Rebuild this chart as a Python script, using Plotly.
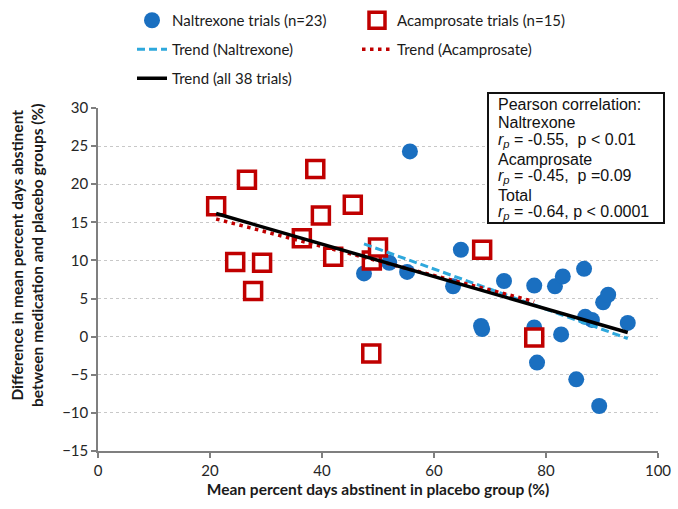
import numpy as np
import plotly.graph_objects as go

# Naltrexone trials: placebo abstinence (%) vs. drug-placebo difference (%)
nal_x = [55.7, 47.5, 52.0, 55.2, 64.8, 63.4, 72.5, 68.6, 68.4, 77.9, 77.9, 78.4,
         81.6, 83.0, 82.7, 86.8, 85.4, 89.5, 87.0, 88.2, 90.2, 91.1, 94.6]
nal_y = [24.3, 8.3, 9.7, 8.5, 11.4, 6.6, 7.3, 1.0, 1.4, 6.7, 1.2, -3.4,
         6.6, 7.9, 0.3, 8.9, -5.6, -9.1, 2.6, 2.2, 4.5, 5.5, 1.8]

# Acamprosate trials
aca_x = [21.1, 26.6, 38.8, 39.8, 45.5, 36.4, 24.5, 29.3, 27.7, 42.0, 48.9, 50.0,
         48.8, 68.6, 77.9]
aca_y = [17.1, 20.6, 22.0, 15.9, 17.3, 12.9, 9.8, 9.7, 6.0, 10.5, 10.0, 11.7,
         -2.2, 11.4, -0.1]

x_ticks = [0, 20, 40, 60, 80, 100]
y_ticks = [-15, -10, -5, 0, 5, 10, 15, 20, 25, 30]

stats_lines = [
    "Pearson correlation:",
    "Naltrexone",
    "<i>r</i><sub><i>p</i></sub> = -0.55,  p &lt; 0.01",
    "Acamprosate",
    "<i>r</i><sub><i>p</i></sub> = -0.45,  p =0.09",
    "Total",
    "<i>r</i><sub><i>p</i></sub> = -0.64, p &lt; 0.0001",
]

BLUE = "#1a6fc0"
RED = "#c00000"
LIGHTBLUE = "#2ea8dc"
FONT = "Lato, 'DejaVu Sans', sans-serif"
ARIAL = "'Liberation Sans', Arial, sans-serif"


def trend(xs, ys):
    xs = np.asarray(xs)
    ys = np.asarray(ys)
    slope, icpt = np.polyfit(xs, ys, 1)
    xl = np.array([xs.min(), xs.max()])
    return xl, slope * xl + icpt


fig = go.Figure()

fig.add_trace(go.Scatter(
    x=nal_x, y=nal_y, mode="markers", name="Naltrexone trials (n=23)",
    marker=dict(symbol="circle", size=16, color=BLUE, line=dict(width=0)),
    legend="legend",
))
fig.add_trace(go.Scatter(
    x=aca_x, y=aca_y, mode="markers", name="Acamprosate trials (n=15)",
    marker=dict(symbol="square", size=17, color="white", line=dict(color=RED, width=3.5)),
    legend="legend",
))

tx, ty = trend(nal_x, nal_y)
fig.add_trace(go.Scatter(
    x=tx, y=ty, mode="lines", name="Trend (Naltrexone)",
    line=dict(color=LIGHTBLUE, width=3, dash="8px,4px"), legend="legend2",
))
tx, ty = trend(aca_x, aca_y)
fig.add_trace(go.Scatter(
    x=tx, y=ty, mode="lines", name="Trend (Acamprosate)",
    line=dict(color=RED, width=3.5, dash="3.5px,4.5px"), legend="legend2",
))
tx, ty = trend(nal_x + aca_x, nal_y + aca_y)
fig.add_trace(go.Scatter(
    x=tx, y=ty, mode="lines", name="Trend (all 38 trials)",
    line=dict(color="black", width=3.5), legend="legend3",
))

W, H = 678, 509
L, R, T, B = 98, 20, 108, 58
PW, PH = W - L - R, H - T - B


def px_x(p):
    return (p - L) / PW


def px_y(p):
    return (H - B - p) / PH


legend_common = dict(
    orientation="h", xref="container", yref="container",
    xanchor="left", yanchor="top", entrywidth=180, entrywidthmode="pixels",
    font=dict(family=FONT, size=15, color="#1a1a1a"),
    bgcolor="rgba(0,0,0,0)", itemclick=False,
)

fig.update_layout(
    width=W, height=H,
    margin=dict(l=L, r=R, t=T, b=B, autoexpand=False),
    paper_bgcolor="white", plot_bgcolor="white",
    font=dict(family=FONT, size=15, color="#262626"),
    showlegend=True,
    legend=dict(x=132 / W, y=1 - 4 / H, **legend_common),
    legend2=dict(x=132 / W, y=1 - 33 / H, **legend_common),
    legend3=dict(x=132 / W, y=1 - 62 / H, **legend_common),
    xaxis=dict(
        range=[0, 100], tickvals=x_ticks, showgrid=False, zeroline=False,
        showline=True, linecolor="#7f7f7f", linewidth=1.5,
        ticks="outside", ticklen=5, tickcolor="#7f7f7f", tickwidth=1.5,
        tickfont=dict(family=FONT, size=15, color="#262626"),
        title=dict(text="<b>Mean percent days abstinent in placebo group (%)</b>",
                   font=dict(family=FONT, size=15.5, color="#1a1a1a"), standoff=6),
    ),
    yaxis=dict(
        range=[-15, 30], tickvals=y_ticks, zeroline=False,
        showgrid=True, gridcolor="#c8c8c8", gridwidth=1, griddash="dot",
        showline=True, linecolor="#7f7f7f", linewidth=1.5,
        ticks="outside", ticklen=5, tickcolor="#7f7f7f", tickwidth=1.5,
        tickfont=dict(family=FONT, size=15, color="#262626"),
    ),
)

# rotated two-line y title
fig.add_annotation(
    xref="paper", yref="paper", x=px_x(6), y=px_y(255),
    xanchor="left", yanchor="middle", textangle=-90, showarrow=False,
    text="<b>Difference in mean percent days abstinent<br>between medication and placebo groups (%)</b>",
    font=dict(family=FONT, size=15.5, color="#1a1a1a"), align="center",
)

# correlation box: white panel with black frame, text lines placed individually
fig.add_shape(
    type="rect", xref="paper", yref="paper",
    x0=px_x(488), x1=px_x(664), y0=px_y(223), y1=px_y(93),
    fillcolor="white", line=dict(color="#111111", width=2), layer="above",
)
line_tops = [95, 113, 130, 150, 166, 186, 202]
for txt, yt in zip(stats_lines, line_tops):
    fig.add_annotation(
        xref="paper", yref="paper", x=px_x(497), y=px_y(yt),
        xanchor="left", yanchor="top", showarrow=False, align="left",
        text=txt, font=dict(family=ARIAL, size=16, color="#111111"),
        borderpad=0,
    )

fig.write_html("out.html")
